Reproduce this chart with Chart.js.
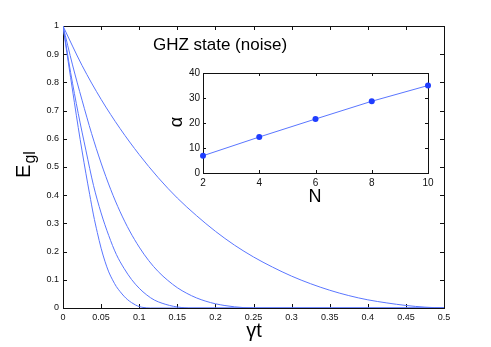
<!DOCTYPE html>
<html>
<head>
<meta charset="utf-8">
<script src="https://cdn.jsdelivr.net/npm/chart.js@4"></script>
<style>
  html, body { margin: 0; padding: 0; background: #fff; }
  #wrap { position: relative; width: 491px; height: 347px; }
  #main { position: absolute; left: 0; top: 0; }
  #inset { position: absolute; left: 150px; top: 60px; }
</style>
</head>
<body>
<div id="wrap">
  <canvas id="main" width="491" height="347"></canvas>
  <canvas id="inset" width="290" height="150"></canvas>
</div>
<script>
// main plot: entanglement decay curves
const xTicks = [0, 0.05, 0.1, 0.15, 0.2, 0.25, 0.3, 0.35, 0.4, 0.45, 0.5];
const yTicks = [0, 0.1, 0.2, 0.3, 0.4, 0.5, 0.6, 0.7, 0.8, 0.9, 1];

const tA = [0, 0.005, 0.01, 0.015, 0.02, 0.025, 0.03, 0.035, 0.04, 0.045, 0.05, 0.055, 0.06, 0.065, 0.07, 0.075, 0.08, 0.085, 0.09, 0.095, 0.1, 0.105, 0.11, 0.115, 0.5];
const eA = [1, 0.907, 0.817, 0.728, 0.640, 0.557, 0.478, 0.403, 0.330, 0.268, 0.212, 0.166, 0.128, 0.100, 0.076, 0.058, 0.042, 0.029, 0.019, 0.011, 0.005, 0.002, 0.0005, 0, 0];

const tB = [0, 0.01, 0.02, 0.03, 0.04, 0.05, 0.06, 0.07, 0.08, 0.09, 0.1, 0.11, 0.12, 0.13, 0.14, 0.15, 0.16, 0.165, 0.5];
const eB = [1, 0.835, 0.690, 0.560, 0.435, 0.337, 0.257, 0.190, 0.141, 0.101, 0.070, 0.046, 0.028, 0.017, 0.009, 0.0035, 0.0008, 0, 0];

const tC = [0, 0.0125, 0.025, 0.0375, 0.05, 0.0625, 0.075, 0.0875, 0.1, 0.1125, 0.125, 0.1375, 0.15, 0.1625, 0.175, 0.1875, 0.2, 0.2125, 0.225, 0.2375, 0.25, 0.5];
const eC = [1, 0.862, 0.737, 0.619, 0.514, 0.421, 0.341, 0.273, 0.216, 0.168, 0.129, 0.098, 0.072, 0.052, 0.036, 0.024, 0.015, 0.0087, 0.0042, 0.0013, 0, 0];

const tD = [0, 0.025, 0.05, 0.075, 0.1, 0.125, 0.15, 0.175, 0.2, 0.225, 0.25, 0.275, 0.3, 0.325, 0.35, 0.375, 0.4, 0.425, 0.45, 0.475, 0.5];
const eD = [1, 0.86, 0.74, 0.636, 0.544, 0.462, 0.39, 0.328, 0.272, 0.223, 0.181, 0.145, 0.113, 0.086, 0.063, 0.044, 0.029, 0.018, 0.009, 0.003, 0];

// inset: alpha vs N
const insetN = [2, 4, 6, 8, 10];
const insetAlpha = [6.9, 14.4, 21.6, 28.7, 35];
const insetXTicks = [2, 4, 6, 8, 10];
const insetYTicks = [0, 10, 20, 30, 40];

const FONT = '"Liberation Sans", Arial, Helvetica, sans-serif';
const LINE = '#5a76ff';

function pts(xs, ys) { return xs.map((x, i) => ({ x: x, y: ys[i] })); }
function fmt(v) { return String(+v.toFixed(2)); }

// draws the box and inward tick marks on all four sides
function boxPlugin(len) {
  return {
    id: 'box',
    beforeDatasetsDraw(chart) {
      const { ctx, chartArea: a, scales } = chart;
      ctx.save();
      ctx.strokeStyle = '#111';
      ctx.lineWidth = 1;
      ctx.beginPath();
      scales.x.ticks.forEach(t => {
        const px = Math.round(scales.x.getPixelForValue(t.value)) + 0.5;
        ctx.moveTo(px, a.bottom); ctx.lineTo(px, a.bottom - len);
        ctx.moveTo(px, a.top); ctx.lineTo(px, a.top + len);
      });
      scales.y.ticks.forEach(t => {
        const py = Math.round(scales.y.getPixelForValue(t.value)) + 0.5;
        ctx.moveTo(a.left, py); ctx.lineTo(a.left + len, py);
        ctx.moveTo(a.right, py); ctx.lineTo(a.right - len, py);
      });
      ctx.stroke();
      ctx.strokeRect(Math.round(a.left) + 0.5, Math.round(a.top) + 0.5,
        Math.round(a.right - a.left), Math.round(a.bottom - a.top));
      ctx.restore();
    }
  };
}

const mainLabels = {
  id: 'mainLabels',
  afterDraw(chart) {
    const ctx = chart.ctx;
    ctx.save();
    ctx.fillStyle = '#000';
    ctx.textAlign = 'center';
    ctx.textBaseline = 'middle';
    ctx.font = '17px ' + FONT;
    ctx.fillText('GHZ state (noise)', 220, 45);
    ctx.font = '20px ' + FONT;
    ctx.fillText('\u03b3t', 254, 331);
    // y label E with subscript gl, rotated
    ctx.translate(30, 165);
    ctx.rotate(-Math.PI / 2);
    ctx.textAlign = 'left';
    ctx.textBaseline = 'alphabetic';
    ctx.font = '20px ' + FONT;
    const wE = ctx.measureText('E').width;
    ctx.font = '16px ' + FONT;
    const wS = ctx.measureText('gl').width;
    const x0 = -(wE + wS) / 2;
    ctx.font = '20px ' + FONT;
    ctx.fillText('E', x0, 0);
    ctx.font = '16px ' + FONT;
    ctx.fillText('gl', x0 + wE + 1, 5);
    ctx.restore();
  }
};

const curve = (xs, ys, name) => ({
  label: name,
  data: pts(xs, ys),
  borderColor: LINE,
  borderWidth: 1,
  pointRadius: 0,
  fill: false,
  cubicInterpolationMode: 'monotone'
});

new Chart(document.getElementById('main'), {
  type: 'line',
  data: {
    datasets: [
      curve(tA, eA, 'curve 1'),
      curve(tB, eB, 'curve 2'),
      curve(tC, eC, 'curve 3'),
      curve(tD, eD, 'curve 4')
    ]
  },
  options: {
    responsive: false,
    animation: false,
    layout: { padding: { left: 0, top: 26, right: 47, bottom: 0 } },
    plugins: { legend: { display: false }, tooltip: { enabled: false } },
    scales: {
      x: {
        type: 'linear', min: 0, max: 0.5,
        afterBuildTicks: s => { s.ticks = xTicks.map(v => ({ value: v })); },
        afterFit: s => { s.height = 39; },
        grid: { display: false, drawTicks: false },
        border: { display: false },
        ticks: { padding: 4, maxRotation: 0, autoSkip: false, color: '#111', font: { family: FONT, size: 9 }, callback: v => fmt(v) }
      },
      y: {
        type: 'linear', min: 0, max: 1,
        afterBuildTicks: s => { s.ticks = yTicks.map(v => ({ value: v })); },
        afterFit: s => { s.width = 63; },
        grid: { display: false, drawTicks: false },
        border: { display: false },
        ticks: { padding: 4, autoSkip: false, color: '#111', font: { family: FONT, size: 9 }, callback: v => fmt(v) }
      }
    }
  },
  plugins: [boxPlugin(4), mainLabels]
});

const insetLabels = {
  id: 'insetLabels',
  beforeDraw(chart) {
    const { ctx, chartArea: a } = chart;
    ctx.save();
    ctx.fillStyle = '#fff';
    ctx.fillRect(a.left, a.top, a.right - a.left, a.bottom - a.top);
    ctx.restore();
  },
  afterDraw(chart) {
    const ctx = chart.ctx;
    ctx.save();
    ctx.fillStyle = '#000';
    ctx.textAlign = 'center';
    ctx.textBaseline = 'middle';
    ctx.font = '18px ' + FONT;
    ctx.fillText('N', 165, 137);
    ctx.translate(27, 62);
    ctx.rotate(-Math.PI / 2);
    ctx.fillText('\u03b1', 0, 0);
    ctx.restore();
  }
};

new Chart(document.getElementById('inset'), {
  type: 'line',
  data: {
    datasets: [{
      label: 'alpha',
      data: pts(insetN, insetAlpha),
      borderColor: LINE,
      borderWidth: 1,
      pointRadius: 3,
      pointBackgroundColor: '#1f3dff',
      pointBorderColor: '#1f3dff',
      pointBorderWidth: 0,
      fill: false,
      clip: 5
    }]
  },
  options: {
    responsive: false,
    animation: false,
    layout: { padding: { left: 0, top: 13, right: 12, bottom: 0 } },
    plugins: { legend: { display: false }, tooltip: { enabled: false } },
    scales: {
      x: {
        type: 'linear', min: 2, max: 10,
        afterBuildTicks: s => { s.ticks = insetXTicks.map(v => ({ value: v })); },
        afterFit: s => { s.height = 37; },
        grid: { display: false, drawTicks: false },
        border: { display: false },
        ticks: { padding: 4, maxRotation: 0, autoSkip: false, color: '#111', font: { family: FONT, size: 10 } }
      },
      y: {
        type: 'linear', min: 0, max: 40,
        afterBuildTicks: s => { s.ticks = insetYTicks.map(v => ({ value: v })); },
        afterFit: s => { s.width = 53; },
        grid: { display: false, drawTicks: false },
        border: { display: false },
        ticks: { padding: 3, autoSkip: false, color: '#111', font: { family: FONT, size: 10 } }
      }
    }
  },
  plugins: [boxPlugin(3), insetLabels]
});
</script>
</body>
</html>
